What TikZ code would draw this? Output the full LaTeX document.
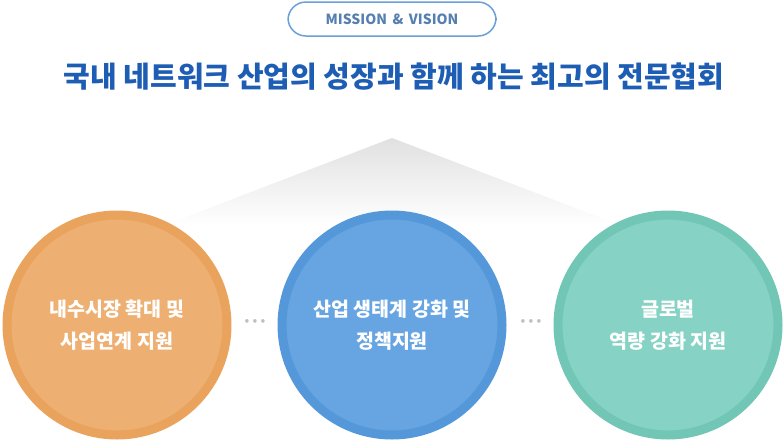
\documentclass[tikz,border=0pt]{standalone}
\usepackage{fontspec}
\newfontfamily\kr{Noto Sans CJK KR}
\usetikzlibrary{shadings}
\definecolor{org}{HTML}{EEB072}\definecolor{orgd}{HTML}{E9A35D}
\definecolor{blu}{HTML}{67A5E2}\definecolor{blud}{HTML}{5598D9}
\definecolor{tea}{HTML}{86D2C4}\definecolor{tead}{HTML}{72C6B6}
\definecolor{ttl}{HTML}{1D5DB3}\definecolor{pill}{HTML}{6A9FDC}
\tikzset{x=1pt,y=-1pt,
 circ/.style={circle,minimum size=220pt,line width=9pt,font=\kr\bfseries\fontsize{19.5}{32}\selectfont,text=white,align=center,inner sep=0pt},
 dots/.style={font=\kr\fontsize{14}{14}\selectfont,text=gray!50}}
\begin{document}
\begin{tikzpicture}
\useasboundingbox (0,0) rectangle (784,440);
\shade[top color=black!12,bottom color=white] (392,138) -- (620,225) -- (165,225) -- cycle;
\node[draw=pill,line width=1.5pt,rounded corners=18pt,minimum width=208pt,minimum height=34pt,text=pill!80!black,font=\kr\bfseries\fontsize{14}{14}\selectfont] (pill) at (392,19) {MISSION \,\&\, VISION};
\node[text=ttl,font=\kr\bfseries\fontsize{29}{29}\selectfont] (title) at (394,77) {국내 네트워크 산업의 성장과 함께 하는 최고의 전문협회};
\node[circ,fill=org,draw=orgd] (c1) at (117,325) {내수시장 확대 및\\사업연계 지원};
\node[circ,fill=blu,draw=blud] (c2) at (392,325) {산업 생태계 강화 및\\정책지원};
\node[circ,fill=tea,draw=tead] (c3) at (668,325) {글로벌\\역량 강화 지원};
\node[dots] (d1) at (255,322) {• • •};
\node[dots] (d2) at (531,322) {• • •};
\end{tikzpicture}
\end{document}
